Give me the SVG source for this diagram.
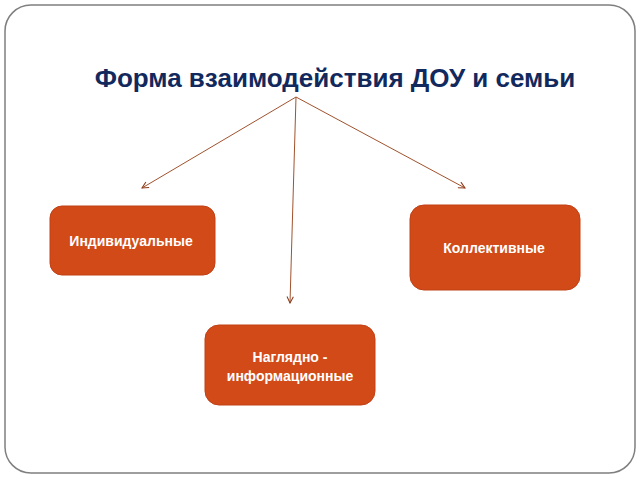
<svg xmlns="http://www.w3.org/2000/svg" width="640" height="480" viewBox="0 0 640 480">
<style>
.box{fill:#D24A18;stroke:#C04015;stroke-width:1}
.lbl{font-family:"Liberation Sans",Arial,sans-serif;font-weight:bold;font-size:14px;fill:#fff;text-anchor:middle}
.con{stroke:#A0522D;stroke-width:1;fill:none;marker-end:url(#ah)}
</style>
<defs>
<marker id="ah" viewBox="0 0 10 10" refX="9" refY="5" markerWidth="8" markerHeight="8" orient="auto" markerUnits="userSpaceOnUse">
<path d="M1,1 L9,5 L1,9" fill="none" stroke="#8B3A1A" stroke-width="1.3"/>
</marker>
</defs>
<rect width="640" height="480" fill="#fff"/>
<rect x="5" y="5" width="630" height="468" rx="26" fill="#fff" stroke="#7f7f7f" stroke-width="1.5"/>
<text x="335" y="87" font-family="'Liberation Sans',Arial,sans-serif" font-weight="bold" font-size="26" fill="#12295E" text-anchor="middle">Форма взаимодействия ДОУ и семьи</text>
<g id="connectors">
<line class="con" x1="296" y1="97" x2="142" y2="188"/>
<line class="con" x1="296" y1="97" x2="290" y2="303"/>
<line class="con" x1="296" y1="97" x2="465" y2="188"/>
</g>
<g id="n1"><rect class="box" x="50" y="206" width="165" height="69" rx="12"/><text class="lbl" x="131" y="246">Индивидуальные</text></g>
<g id="n2"><rect class="box" x="410" y="205" width="170" height="85" rx="14"/><text class="lbl" x="494" y="253">Коллективные</text></g>
<g id="n3"><rect class="box" x="205" y="325" width="170" height="80" rx="14"/><text class="lbl" x="290" y="362">Наглядно -</text><text class="lbl" x="290" y="381">информационные</text></g>
</svg>
